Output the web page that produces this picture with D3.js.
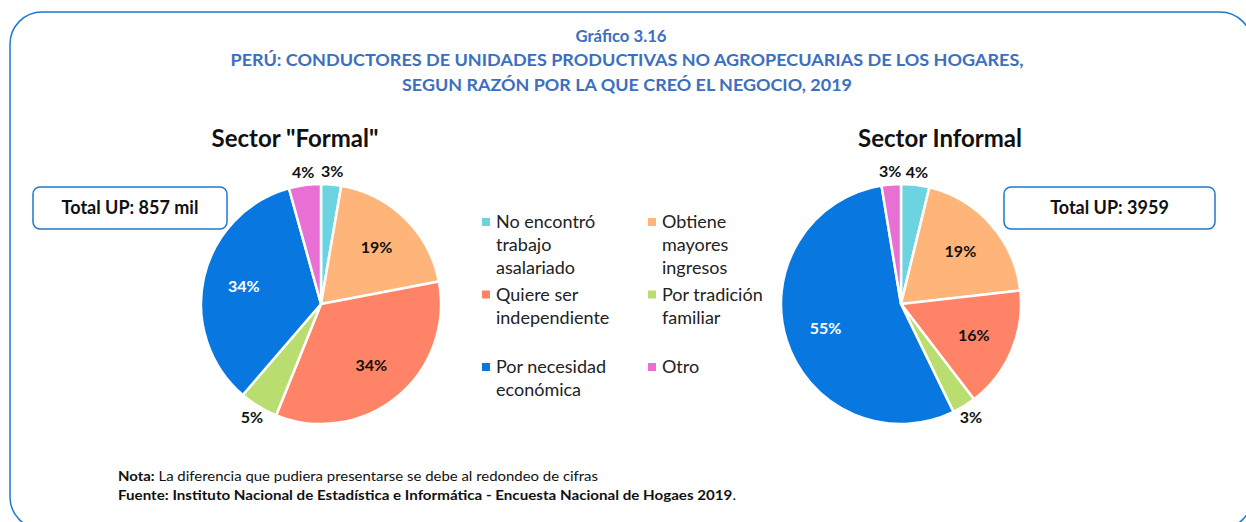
<!DOCTYPE html>
<html lang="es">
<head>
<meta charset="UTF-8" />
<title>Gráfico 3.16</title>
<style>
  body { margin: 0; background: #fff; }
  svg text { font-family: Lato, "Open Sans", sans-serif; }
</style>
</head>
<body>
<svg id="svg" width="1246" height="522"></svg>
<script src="https://d3js.org/d3.v7.min.js"></script>
<script>
// reasons, in the order the slices go round (clockwise from 12 o'clock)
const categories = [
  'No encontró trabajo asalariado',
  'Obtiene mayores ingresos',
  'Quiere ser independiente',
  'Por tradición familiar',
  'Por necesidad económica',
  'Otro'
];
const legendLines = [
  ['No encontró', 'trabajo', 'asalariado'],
  ['Obtiene', 'mayores', 'ingresos'],
  ['Quiere ser', 'independiente'],
  ['Por tradición', 'familiar'],
  ['Por necesidad', 'económica'],
  ['Otro']
];
const colors = ['#6cd4e0', '#ffb579', '#ff8467', '#badd6f', '#0878e0', '#e86fd3'];

// % of conductores
const formalValues = [2.7, 19.3, 34.1, 5.2, 34.4, 4.3];
const informalValues = [3.8, 19.4, 16.4, 3.2, 54.6, 2.6];

const titleLines = [
  'Gráfico 3.16',
  'PERÚ: CONDUCTORES DE UNIDADES PRODUCTIVAS NO AGROPECUARIAS DE LOS HOGARES,',
  'SEGUN RAZÓN POR LA QUE CREÓ EL NEGOCIO, 2019'
];

const svg = d3.select('#svg');
const blue = '#1f78cc';

// outer frame
svg.append('rect')
  .attr('x', 10).attr('y', 12)
  .attr('width', 1242).attr('height', 517)
  .attr('rx', 32)
  .attr('fill', 'none')
  .attr('stroke', blue)
  .attr('stroke-width', 1.5);

// title
const titleY = [42, 66, 91];
const titleW = [91, 793, 450];
titleLines.forEach((t, i) => {
  svg.append('text')
    .attr('x', i === 0 ? 621 : 627)
    .attr('y', titleY[i])
    .attr('text-anchor', 'middle')
    .attr('fill', '#3d6fc0')
    .style('font-weight', 'bold')
    .style('font-size', '17.5px')
    .attr('textLength', titleW[i])
    .attr('lengthAdjust', 'spacingAndGlyphs')
    .text(t);
});

const radius = 120;
const pie = d3.pie().sort(null).value((d) => d);
const arc = d3.arc().innerRadius(0).outerRadius(radius);
const inLabel = d3.arc().innerRadius(radius * 0.66).outerRadius(radius * 0.66);
const outLabel = d3.arc().innerRadius(radius + 13).outerRadius(radius + 13);

function drawPie(cx, cy, values, title, titleX, total, box) {
  const g = svg.append('g').attr('transform', `translate(${cx},${cy})`);
  const arcs = pie(values);

  g.selectAll('path')
    .data(arcs)
    .enter()
    .append('path')
    .attr('d', arc)
    .attr('fill', (d, i) => colors[i])
    .attr('stroke', '#fff')
    .attr('stroke-width', 2.5);

  g.selectAll('text.lbl')
    .data(arcs)
    .enter()
    .append('text')
    .attr('class', 'lbl')
    .attr('transform', (d) => {
      const small = d.data < 6;
      const p = small ? outLabel.centroid(d) : inLabel.centroid(d);
      return `translate(${p})`;
    })
    .attr('text-anchor', 'middle')
    .attr('dy', '0.35em')
    .attr('fill', (d, i) => (i === 4 ? '#fff' : '#111'))
    .style('font-weight', 'bold')
    .style('font-size', '16px')
    .text((d) => Math.round(d.data) + '%');

  svg.append('text')
    .attr('x', titleX)
    .attr('y', 147)
    .attr('text-anchor', 'middle')
    .attr('fill', '#111')
    .style('font-weight', 'bold')
    .style('font-size', '24px')
    .text(title);

  svg.append('rect')
    .attr('x', box[0]).attr('y', 187)
    .attr('width', box[1] - box[0]).attr('height', 42)
    .attr('rx', 7)
    .attr('fill', '#fff')
    .attr('stroke', blue)
    .attr('stroke-width', 1.5);
  svg.append('text')
    .attr('x', (box[0] + box[1]) / 2)
    .attr('y', 208)
    .attr('dy', '0.35em')
    .attr('text-anchor', 'middle')
    .attr('fill', '#111')
    .style('font-weight', 'bold')
    .style('font-size', '18px')
    .text(total);
}

drawPie(321, 304, formalValues, 'Sector "Formal"', 295, 'Total UP: 857 mil', [33, 227]);
drawPie(901, 304, informalValues, 'Sector Informal', 940, 'Total UP: 3959', [1004, 1215]);

// legend: 2 columns, 3 rows
const legend = svg.append('g');
categories.forEach((c, i) => {
  const col = i % 2;
  const row = Math.floor(i / 2);
  const x = col === 0 ? 482 : 648;
  const y = 222 + row * 72.5;
  legend.append('rect')
    .attr('x', x).attr('y', y - 4)
    .attr('width', 8).attr('height', 8)
    .attr('fill', colors[i]);
  legendLines[i].forEach((l, j) => {
    legend.append('text')
      .attr('x', x + 14)
      .attr('y', y + j * 23)
      .attr('dy', '0.35em')
      .attr('fill', '#222')
      .style('font-size', '18px')
      .text(l);
  });
});

// notes
const nota = svg.append('text')
  .attr('x', 118).attr('y', 481)
  .attr('fill', '#111')
  .style('font-size', '14px')
  .attr('textLength', 480)
  .attr('lengthAdjust', 'spacingAndGlyphs');
nota.append('tspan').style('font-weight', 'bold').text('Nota:');
nota.append('tspan').text(' La diferencia que pudiera presentarse  se debe al redondeo de cifras');

const fuente = svg.append('text')
  .attr('x', 118).attr('y', 500)
  .attr('fill', '#111')
  .style('font-size', '14px')
  .attr('textLength', 618)
  .attr('lengthAdjust', 'spacingAndGlyphs');
fuente.append('tspan').style('font-weight', 'bold')
  .text('Fuente: Instituto Nacional de Estadística e Informática - Encuesta Nacional de Hogaes 2019');
fuente.append('tspan').text('.');
</script>
</body>
</html>
